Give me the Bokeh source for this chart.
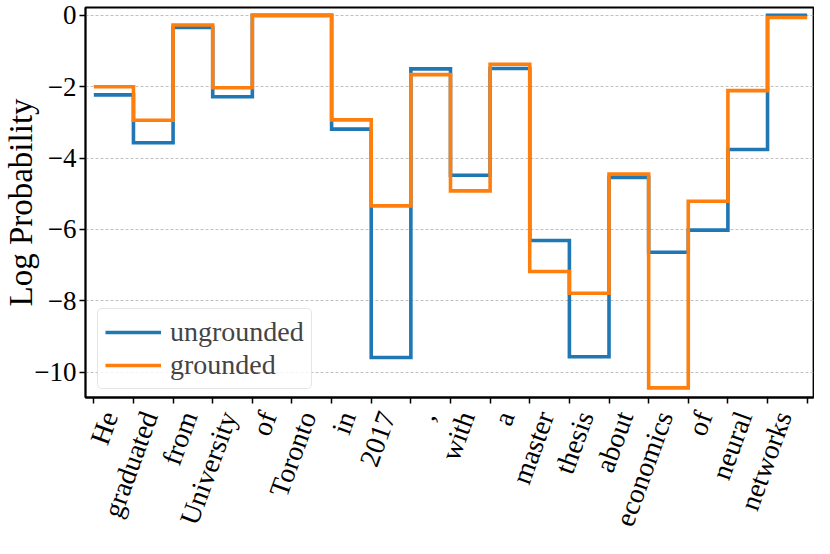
from bokeh.plotting import figure
from bokeh.models import FixedTicker, Range1d, Legend
from bokeh.embed import file_html
from bokeh.resources import INLINE
import math

tokens = ["He", "graduated", "from", "University", "of", "Toronto", "in", "2017", ",",
          "with", "a", "master", "thesis", "about", "economics", "of", "neural", "networks"]
ungrounded = [-2.23, -3.57, -0.34, -2.28, 0.0, 0.0, -3.19, -9.59, -1.50,
              -4.48, -1.49, -6.31, -9.57, -4.54, -6.64, -6.02, -3.76, 0.0]
grounded = [-2.00, -2.94, -0.27, -2.03, 0.0, 0.0, -2.93, -5.34, -1.66,
            -4.92, -1.37, -7.18, -7.79, -4.45, -10.44, -5.21, -2.11, -0.06]
y_ticks = [0, -2, -4, -6, -8, -10]

FONT = "Liberation Serif"
BLUE = "#1f77b4"
ORANGE = "#ff7f0e"

n = len(tokens)
xs = list(range(n + 1))
yu = ungrounded + [ungrounded[-1]]
yg = grounded + [grounded[-1]]

Y0, Y1 = -10.71, 0.22
p = figure(width=814, height=538, output_backend="svg", toolbar_location=None,
           x_range=Range1d(-0.21, 18.16), y_range=Range1d(Y0, Y1),
           min_border_left=85, min_border_right=1, min_border_top=7, min_border_bottom=138)
p.background_fill_color = "white"
p.border_fill_color = "white"
p.outline_line_color = "black"
p.outline_line_width = 1.8
p.outline_line_alpha = 1.0

r1 = p.step(xs, yu, mode="after", line_color=BLUE, line_width=3.6, line_join="miter")
r2 = p.step(xs, yg, mode="after", line_color=ORANGE, line_width=3.6, line_join="miter")

legend = Legend(items=[("ungrounded", [r1]), ("grounded", [r2])], location=(12, 8))
legend.label_text_font = FONT
legend.label_text_font_size = "28px"
legend.glyph_width = 56
legend.glyph_height = 30
legend.label_height = 30
legend.spacing = 1
legend.padding = 7
legend.margin = 0
legend.label_standoff = 9
legend.border_line_color = "#cccccc"
legend.border_line_width = 1.2
legend.border_radius = 5
legend.background_fill_alpha = 0.8
p.add_layout(legend)

# x axis
label_pos = [i + 0.4 for i in range(n)]
p.xaxis.ticker = FixedTicker(ticks=label_pos, minor_ticks=list(range(n + 1)))
p.xaxis.major_label_overrides = {lp: t for lp, t in zip(label_pos, tokens)}
p.xaxis.major_label_orientation = math.radians(70)
p.xaxis.major_label_text_font = FONT
p.xaxis.major_label_text_font_style = "normal"
p.xaxis.major_label_text_font_size = "28px"
p.xaxis.major_label_text_color = "black"
p.xaxis.major_tick_out = 0
p.xaxis.major_tick_in = 0
p.xaxis.minor_tick_out = 6
p.xaxis.minor_tick_in = 0
p.xaxis.minor_tick_line_width = 1.5
p.xaxis.minor_tick_line_color = "black"
p.xaxis.axis_line_color = "black"
p.xaxis.axis_line_width = 1.8
p.xaxis.major_label_standoff = 9

# y axis
p.yaxis.ticker = FixedTicker(ticks=y_ticks, minor_ticks=[])
p.yaxis.major_label_overrides = {v: ("0" if v == 0 else "\u2212" + str(abs(v))) for v in y_ticks}
p.yaxis.major_label_text_font = FONT
p.yaxis.major_label_text_font_style = "normal"
p.yaxis.major_label_text_font_size = "27px"
p.yaxis.major_label_text_color = "black"
p.yaxis.major_tick_out = 6
p.yaxis.major_tick_in = 0
p.yaxis.major_tick_line_width = 1.5
p.yaxis.axis_line_color = "black"
p.yaxis.axis_line_width = 1.8
p.yaxis.major_label_standoff = 3
p.yaxis.axis_label = "Log Probability"
p.yaxis.axis_label_text_font = FONT
p.yaxis.axis_label_text_font_style = "normal"
p.yaxis.axis_label_text_font_size = "33px"
p.yaxis.axis_label_text_color = "black"
p.yaxis.axis_label_standoff = -8

p.xgrid.grid_line_color = None
p.ygrid.grid_line_color = "#b0b0b0"
p.ygrid.grid_line_width = 0.8
p.ygrid.grid_line_dash = "3 2"

open("out.html", "w").write(file_html(p, INLINE))
